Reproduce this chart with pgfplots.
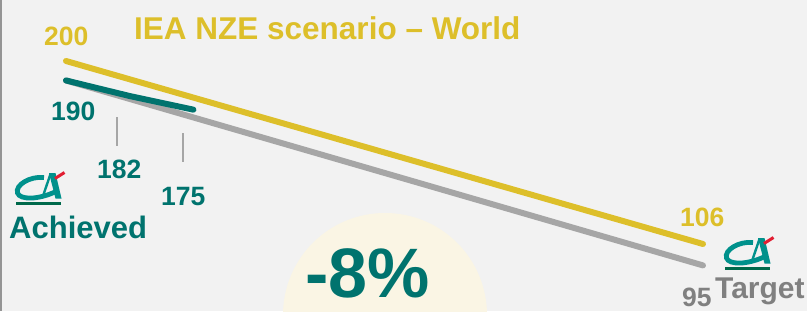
\documentclass[border=0pt]{standalone}
\usepackage{pgfplots}
\pgfplotsset{compat=1.18}
\usepackage{fontspec}
\setmainfont{Liberation Sans}
\definecolor{bgc}{RGB}{242,242,242}
\definecolor{yel}{RGB}{221,191,42}
\definecolor{tealc}{RGB}{0,115,110}
\definecolor{grayl}{RGB}{166,166,166}
\definecolor{grayt}{RGB}{128,128,128}
\definecolor{cream}{RGB}{250,245,228}
\definecolor{cagreen}{RGB}{0,105,75}
\definecolor{cateal}{RGB}{0,145,140}
\definecolor{cared}{RGB}{225,30,50}
\newcommand{\fs}[1]{\fontsize{#1bp}{#1bp}\selectfont\bfseries}
\tikzset{
  calogo/.pic={
    \fill[cagreen] (0,0) rectangle (45,3.5);
    \draw[cateal, line width=4.8bp] (28,27.5) .. controls (14,29) and (-1,20) .. (1.5,12)
       .. controls (4,5) and (22,5) .. (40,13.5);
    \fill[cateal] (33,32) -- (39.5,32) -- (45.5,6.5) -- (39.5,6.5) -- cycle;
    \draw[cateal, line width=2.4bp] (34.5,31) -- (27,9);
    \draw[cared, line width=3bp] (39,26.5) -- (48.5,32.5);
  }
}
\begin{document}
\begin{tikzpicture}[x=1bp,y=1bp]
\useasboundingbox (0,0) rectangle (807,311);
\clip (0,0) rectangle (807,311);
\fill[bgc] (0,0) rectangle (807,311);
\fill[grayl!90!black] (0,0) rectangle (2.2,311);
\fill[cream] (385,-4) circle (102);
\begin{axis}[at={(0,0)}, anchor=south west, scale only axis,
  width=807bp, height=311bp, hide axis,
  xmin=2018.964, xmax=2031.633, ymin=71.58, ymax=231.33, clip=false]
\addplot[grayl, line width=6bp, line cap=round] coordinates {(2020,190) (2030,95)};
\addplot[yel, line width=6bp, line cap=round] coordinates {(2020,200) (2030,106)};
\addplot[tealc, line width=6bp, line cap=round] coordinates {(2020,190) (2021,182) (2022,175)};
\end{axis}
\draw[grayl, line width=1.6bp] (117,194) -- (117,165);
\draw[grayl, line width=1.6bp] (183,178) -- (183,149);
\node[anchor=base west, inner sep=0, text=yel] at (134,272) {\fs{31.5}IEA NZE scenario – World};
\node[anchor=base west, inner sep=0, text=yel] at (44,266) {\fs{26.5}200};
\node[anchor=base west, inner sep=0, text=tealc] at (51,191) {\fs{26.5}190};
\node[anchor=base west, inner sep=0, text=tealc] at (97,133) {\fs{26.5}182};
\node[anchor=base west, inner sep=0, text=tealc] at (161,106) {\fs{26.5}175};
\node[anchor=base west, inner sep=0, text=tealc] at (9,73) {\fs{31}Achieved};
\node[anchor=base west, inner sep=0, text=yel] at (680,85) {\fs{26.5}106};
\node[anchor=base west, inner sep=0, text=grayt] at (682,5) {\fs{26.5}95};
\node[anchor=base west, inner sep=0, text=grayt] at (715,13) {\fs{30}Target};
\node[anchor=base west, inner sep=0, text=tealc] at (305,14) {\fs{70}-8\%};
\pic at (16,106) {calogo};
\pic at (725,41) {calogo};
\end{tikzpicture}
\end{document}
